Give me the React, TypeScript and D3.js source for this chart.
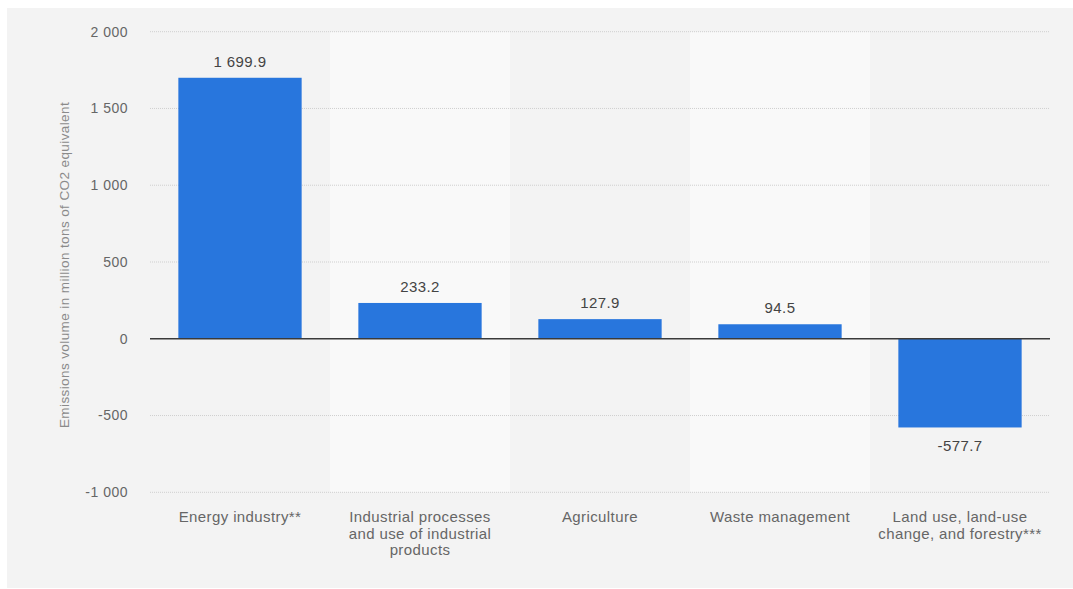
import React from "react";
import * as d3 from "d3";

const categories: string[][] = [
  ["Energy industry**"],
  ["Industrial processes", "and use of industrial", "products"],
  ["Agriculture"],
  ["Waste management"],
  ["Land use, land-use", "change, and forestry***"],
];
const values: number[] = [1699.9, 233.2, 127.9, 94.5, -577.7];
const valueLabels: string[] = ["1 699.9", "233.2", "127.9", "94.5", "-577.7"];
const yTicks: number[] = [-1000, -500, 0, 500, 1000, 1500, 2000];
const yTitle = "Emissions volume in million tons of CO2 equivalent";

const W = 1073;
const H = 589;
const fmt = (v: number) => {
  const s = Math.abs(v).toString().replace(/\B(?=(\d{3})+(?!\d))/g, " ");
  return (v < 0 ? "-" : "") + s;
};

export default function App() {
  const x = d3
    .scaleBand<number>()
    .domain(values.map((_, i) => i))
    .range([150, 1050])
    .paddingInner(0.315)
    .paddingOuter(0.1575);
  const band = d3.scaleBand<number>().domain(values.map((_, i) => i)).range([150, 1050]);
  const y = d3.scaleLinear().domain([-1000, 2000]).range([492.3, 31.7]);
  const font = "'Liberation Sans', Arial, Helvetica, sans-serif";

  return (
    <svg
      width={W}
      height={H}
      style={{ position: "fixed", left: 0, top: 0 }}
      fontFamily={font}
    >
      <rect x={0} y={0} width={W} height={H} fill="#ffffff" />
      <rect x={7} y={8} width={W - 7} height={H - 9} fill="#f3f3f3" />
      {values.map((_, i) =>
        i % 2 === 1 ? (
          <rect
            key={"b" + i}
            x={band(i)}
            y={y(2000)}
            width={band.bandwidth()}
            height={y(-1000) - y(2000)}
            fill="#f9f9f9"
          />
        ) : null
      )}
      {yTicks.map((t) =>
        t === 0 ? null : (
          <line
            key={"g" + t}
            x1={150}
            x2={1050}
            y1={y(t)}
            y2={y(t)}
            stroke="#cfcfcf"
            strokeWidth={1}
            strokeDasharray="1,1"
          />
        )
      )}
      {yTicks.map((t) => (
        <text
          key={"t" + t}
          x={128}
          y={y(t)}
          dy="0.35em"
          textAnchor="end"
          fontSize={14}
          letterSpacing={0.5}
          fill="#666"
        >
          {fmt(t)}
        </text>
      ))}
      <text
        transform={`translate(69,265) rotate(-90)`}
        textAnchor="middle"
        fontSize={13.5}
        letterSpacing={0.4}
        fill="#8a8a8a"
      >
        {yTitle}
      </text>
      {values.map((v, i) => (
        <rect
          key={"r" + i}
          x={x(i)}
          y={y(Math.max(0, v))}
          width={x.bandwidth()}
          height={Math.abs(y(v) - y(0))}
          fill="#2876dd"
        />
      ))}
      <line x1={150} x2={1050} y1={y(0)} y2={y(0)} stroke="#3a3a3a" strokeWidth={1.5} />
      {values.map((v, i) => (
        <text
          key={"v" + i}
          x={(x(i) as number) + x.bandwidth() / 2}
          y={v >= 0 ? y(v) - 11 : y(v) + 24}
          textAnchor="middle"
          fontSize={15}
          letterSpacing={0.4}
          fill="#444"
        >
          {valueLabels[i]}
        </text>
      ))}
      {categories.map((lines, i) => (
        <text
          key={"c" + i}
          x={(band(i) as number) + band.bandwidth() / 2}
          y={522}
          textAnchor="middle"
          fontSize={15}
          letterSpacing={0.4}
          fill="#666"
        >
          {lines.map((l, j) => (
            <tspan key={j} x={(band(i) as number) + band.bandwidth() / 2} dy={j === 0 ? 0 : 16.5}>
              {l}
            </tspan>
          ))}
        </text>
      ))}
    </svg>
  );
}
